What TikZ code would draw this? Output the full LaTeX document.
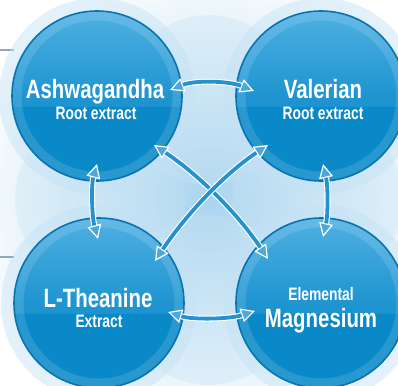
\documentclass[tikz,border=0pt]{standalone}
\usepackage{fontspec}
\setmainfont{Liberation Sans}[FakeStretch=0.77]
\usetikzlibrary{arrows.meta}
\definecolor{ballblue}{HTML}{0A89C9}
\definecolor{ballrim}{HTML}{0873B2}
\definecolor{balllight}{HTML}{4FB0E2}
\definecolor{arrowblue}{HTML}{2592CF}
\definecolor{headblue}{HTML}{4AA8DC}
\definecolor{glow}{HTML}{A9D4EF}
\definecolor{halo}{HTML}{C4E2F4}
\definecolor{sideline}{HTML}{8CA5C8}
\begin{document}
\begin{tikzpicture}[x=1pt,y=-1pt,
 ball/.style={circle, minimum size=170pt, inner sep=0pt, fill=ballblue, draw=ballrim, line width=1.6pt,
   path picture={
     \fill[top color=balllight, bottom color=ballblue, middle color=ballblue!70!balllight] (path picture bounding box.north west) rectangle ([yshift=-10pt]path picture bounding box.east);
     \draw[white, opacity=0.13, line width=9pt] (path picture bounding box.center) circle[radius=80pt];
   }},
 big/.style={text=white, font=\bfseries\fontsize{26.5}{28}\selectfont, inner sep=0pt, anchor=base},
 small/.style={text=white, font=\bfseries\fontsize{18}{19}\selectfont, inner sep=0pt, anchor=base},
 link/.style={draw=white, line width=6pt, {Triangle[length=14pt,width=14pt,line width=1.2pt,fill=headblue]}-{Triangle[length=14pt,width=14pt,line width=1.2pt,fill=headblue]}},
 core/.style={draw=arrowblue, line width=3.8pt, shorten <=14pt, shorten >=14pt},
 side/.style={draw=sideline, line width=1.5pt},
]
\useasboundingbox (0,0) rectangle (398,385);
\fill[white] (0,0) rectangle (398,385);
\shade[inner color=glow, outer color=white] (209,199) ellipse [x radius=250, y radius=240];

% side marks
\coordinate (s1a) at (0,50);  \coordinate (s1b) at (14,50);
\coordinate (s2a) at (0,257); \coordinate (s2b) at (14,257);
\draw[side] (s1a) -- (s1b);
\draw[side] (s2a) -- (s2b);

% centres
\coordinate (cA) at (97,96);
\coordinate (cV) at (321,96);
\coordinate (cL) at (99,303);
\coordinate (cM) at (321,303);

% halos
\foreach \c in {cA,cV,cL,cM} \fill[halo, opacity=0.45] (\c) circle[radius=98];
\fill[halo, opacity=0.3] (209,100) circle[radius=85];
\fill[halo, opacity=0.3] (209,300) circle[radius=85];
\fill[halo, opacity=0.3] (100,199) circle[radius=85];
\fill[halo, opacity=0.3] (318,199) circle[radius=85];

% balls
\node[ball] (A) at (cA) {};
\node[ball] (V) at (cV) {};
\node[ball] (L) at (cL) {};
\node[ball] (M) at (cM) {};

% texts
\node[big]   (tA1) at (95,99) {Ashwagandha};
\node[small] (tA2) at (96,119) {Root extract};
\node[big]   (tV1) at (323,99) {Valerian};
\node[small] (tV2) at (323,119) {Root extract};
\node[big]   (tL1) at (98,307) {L-Theanine};
\node[small] (tL2) at (99,327) {Extract};
\node[small] (tM1) at (321,300) {Elemental};
\node[big]   (tM2) at (321,327) {Magnesium};

% arrow end points
\coordinate (pAV1) at (170,90);  \coordinate (pAV2) at (254,91);
\coordinate (pLM1) at (168,312); \coordinate (pLM2) at (255,311);
\coordinate (pAL1) at (97,164);  \coordinate (pAL2) at (98,239);
\coordinate (pVM1) at (323,164); \coordinate (pVM2) at (323,237);
\coordinate (pAM1) at (154,145); \coordinate (pAM2) at (268,259);
\coordinate (pVL1) at (268,145); \coordinate (pVL2) at (155,261);

\draw[link] (pAV1) .. controls +(25,-10) and +(-25,-10) .. (pAV2);
\draw[core] (pAV1) .. controls +(25,-10) and +(-25,-10) .. (pAV2);
\draw[link] (pLM1) .. controls +(25,8) and +(-25,8) .. (pLM2);
\draw[core] (pLM1) .. controls +(25,8) and +(-25,8) .. (pLM2);
\draw[link] (pAL1) .. controls +(-6,22) and +(-6,-22) .. (pAL2);
\draw[core] (pAL1) .. controls +(-6,22) and +(-6,-22) .. (pAL2);
\draw[link] (pVM1) .. controls +(5,22) and +(5,-22) .. (pVM2);
\draw[core] (pVM1) .. controls +(5,22) and +(5,-22) .. (pVM2);
\draw[link] (pAM1) .. controls +(45,30) and +(-30,-45) .. (pAM2);
\draw[core] (pAM1) .. controls +(45,30) and +(-30,-45) .. (pAM2);
\draw[link] (pVL1) .. controls +(-45,30) and +(30,-45) .. (pVL2);
\draw[core] (pVL1) .. controls +(-45,30) and +(30,-45) .. (pVL2);
\end{tikzpicture}
\end{document}
